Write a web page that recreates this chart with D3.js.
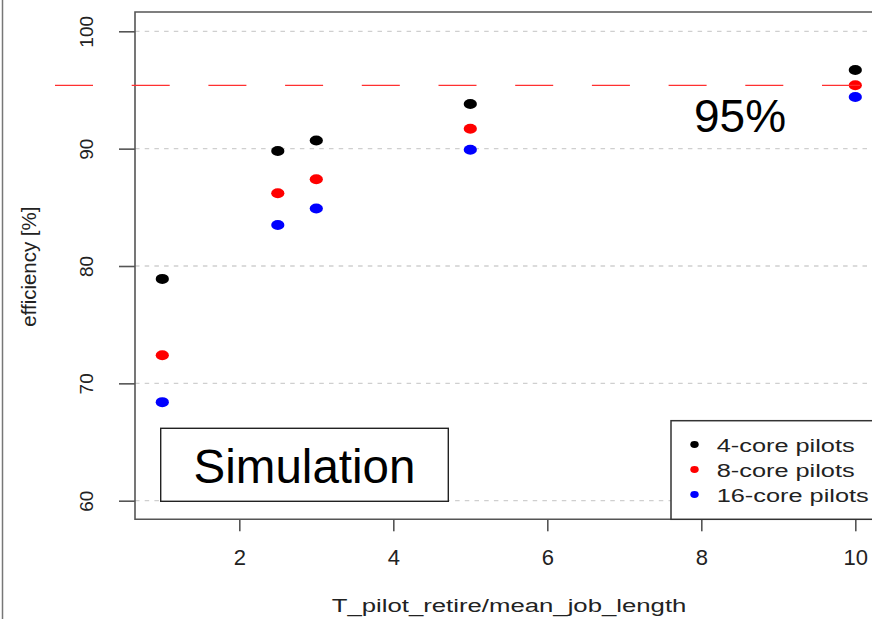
<!DOCTYPE html>
<html>
<head>
<meta charset="utf-8">
<script src="https://cdn.jsdelivr.net/npm/d3@7"></script>
<style>
	body { margin: 0; background: #fff; }
	svg { display: block; font-family: "Liberation Sans", Arial, sans-serif; }
</style>
</head>
<body>
<svg width="872" height="619"></svg>
<script>
// data
var ratios = [1, 2.5, 3, 5, 10];
var core4 = [78.9, 89.8, 90.7, 93.8, 96.7];
var core8 = [72.4, 86.2, 87.4, 91.7, 95.4];
var core16 = [68.4, 83.5, 84.9, 89.9, 94.4];
var seriesNames = ["4-core pilots", "8-core pilots", "16-core pilots"];
var seriesColors = ["#000000", "#ff0000", "#0000ff"];
var xTicks = [2, 4, 6, 8, 10];
var yTicks = [60, 70, 80, 90, 100];
var targetLine = 95.4; // the "95%" line sits a little above 95 in the picture

var width = 872,
	height = 619;

var svg = d3.select("svg");

var x = d3.scaleLinear().domain([2, 10]).range([239.3, 855.3]);
var y = d3.scaleLinear().domain([60, 100]).range([500.7, 31.3]);

var plotLeft = 135,
	plotTop = 12,
	plotBottom = 519.3;

// outer frame edge on the left
svg.append("line")
	.attr("x1", 2.5).attr("x2", 2.5)
	.attr("y1", 0).attr("y2", height)
	.style("stroke", "#777").style("stroke-width", 1.5);

// dotted grid
svg.append("g")
	.selectAll("line")
	.data(yTicks)
	.enter()
	.append("line")
	.attr("x1", plotLeft).attr("x2", width)
	.attr("y1", (d) => y(d)).attr("y2", (d) => y(d))
	.style("stroke", "#cfcfcf")
	.style("stroke-width", 1.3)
	.style("stroke-dasharray", "4.5,5.2");

// plot box (right side runs off the picture)
svg.append("path")
	.attr("d", "M" + (width + 5) + "," + plotTop + "H" + plotLeft + "V" + plotBottom + "H" + (width + 5))
	.style("fill", "none")
	.style("stroke", "#555")
	.style("stroke-width", 1.6);

// x axis
var xAxis = svg.append("g")
	.attr("transform", "translate(0," + plotBottom + ")")
	.call(d3.axisBottom(x).tickValues(xTicks).tickSize(12).tickPadding(34).tickFormat(d3.format("d")));
xAxis.select(".domain").remove();
xAxis.selectAll("line").style("stroke", "#555").style("stroke-width", 1.6);
xAxis.selectAll("text")
	.attr("dy", 0)
	.style("font-size", "22px")
	.style("fill", "#222");

// y axis, labels turned like R's default
var yAxis = svg.append("g")
	.attr("transform", "translate(" + plotLeft + ",0)")
	.call(d3.axisLeft(y).tickValues(yTicks).tickSize(16).tickFormat(d3.format("d")));
yAxis.select(".domain").remove();
yAxis.selectAll("line").style("stroke", "#555").style("stroke-width", 1.6);
yAxis.selectAll("text")
	.attr("x", null).attr("dy", null)
	.attr("transform", "translate(-41.7,0) rotate(-90)")
	.attr("text-anchor", "middle")
	.style("font-size", "19px")
	.style("fill", "#222");

// axis titles
svg.append("text")
	.attr("transform", "translate(331.7,611.5) scale(1.355,1)")
	.style("font-size", "19px")
	.style("fill", "#222")
	.text("T_pilot_retire/mean_job_length");

svg.append("text")
	.attr("transform", "translate(36,266.7) rotate(-90)")
	.attr("text-anchor", "middle")
	.attr("textLength", 120)
	.attr("lengthAdjust", "spacingAndGlyphs")
	.style("font-size", "19.5px")
	.style("fill", "#222")
	.text("efficiency [%]");

// points
var series = [core4, core8, core16];
series.forEach((values, i) => {
	svg.append("g")
		.selectAll("ellipse")
		.data(values.map((v, j) => ({ r: ratios[j], v: v })))
		.enter()
		.append("ellipse")
		.attr("cx", (d) => x(d.r))
		.attr("cy", (d) => y(d.v))
		.attr("rx", 6.6)
		.attr("ry", 5)
		.style("fill", seriesColors[i]);
});

// 95% line
svg.append("line")
	.attr("x1", 55).attr("x2", width)
	.attr("y1", y(targetLine)).attr("y2", y(targetLine))
	.style("stroke", "#ff3030")
	.style("stroke-width", 1.2)
	.style("stroke-dasharray", "38,38.7");

svg.append("text")
	.attr("x", 694)
	.attr("y", 132)
	.style("font-size", "46px")
	.style("fill", "#000")
	.text("95%");

// "Simulation" box
svg.append("rect")
	.attr("x", 160.7).attr("y", 428.3)
	.attr("width", 287.6).attr("height", 73)
	.style("fill", "#fff")
	.style("stroke", "#222")
	.style("stroke-width", 1.4);
svg.append("text")
	.attr("x", 304.5).attr("y", 482.7)
	.attr("text-anchor", "middle")
	.style("font-size", "47.5px")
	.style("fill", "#000")
	.text("Simulation");

// legend
var legend = svg.append("g");
legend.append("rect")
	.attr("x", 671).attr("y", 420.7)
	.attr("width", 220).attr("height", plotBottom - 420.7)
	.style("fill", "#fff")
	.style("stroke", "#333")
	.style("stroke-width", 1.5);

var legendRows = legend.selectAll("g.row")
	.data(seriesNames)
	.enter()
	.append("g")
	.attr("class", "row")
	.attr("transform", (d, i) => "translate(0," + (i * 25) + ")");
legendRows.append("ellipse")
	.attr("cx", 694.5).attr("cy", 444.5)
	.attr("rx", 4.2).attr("ry", 3.4)
	.style("fill", (d, i) => seriesColors[i]);
legendRows.append("text")
	.attr("transform", "translate(716.7,451.7) scale(1.37,1)")
	.style("font-size", "18.5px")
	.style("fill", "#222")
	.text((d) => d);
</script>
</body>
</html>
